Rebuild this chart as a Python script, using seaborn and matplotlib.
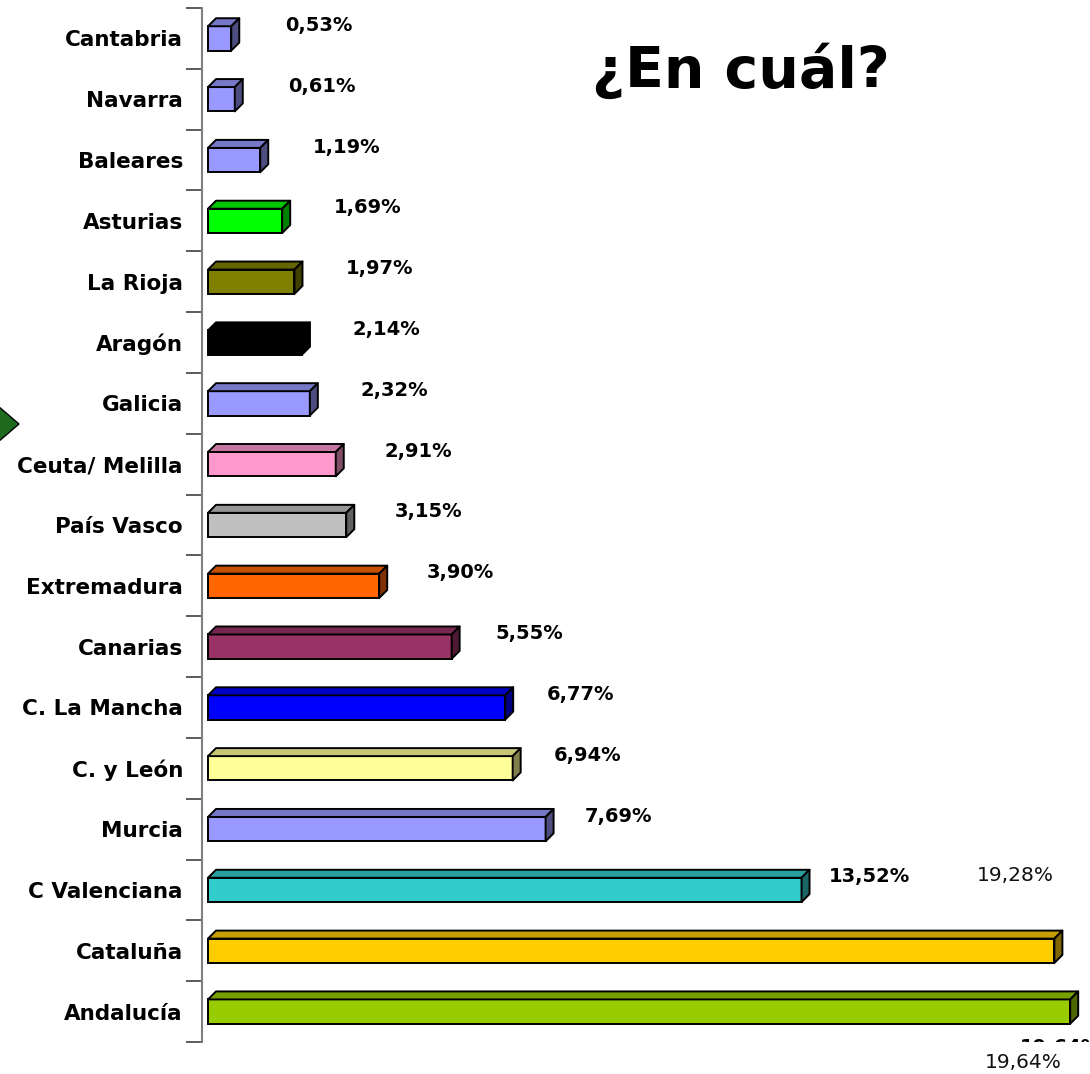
import numpy as np
import pandas as pd
import matplotlib
matplotlib.use("Agg")
import matplotlib.pyplot as plt
import seaborn as sns
from matplotlib.patches import Polygon, Rectangle
from matplotlib.colors import to_rgb

regions = ["Cantabria", "Navarra", "Baleares", "Asturias", "La Rioja", "Aragón",
           "Galicia", "Ceuta/ Melilla", "País Vasco", "Extremadura", "Canarias",
           "C. La Mancha", "C. y León", "Murcia", "C Valenciana", "Cataluña", "Andalucía"]
values = [0.53, 0.61, 1.19, 1.69, 1.97, 2.14, 2.32, 2.91, 3.15, 3.90, 5.55,
          6.77, 6.94, 7.69, 13.52, 19.28, 19.64]
value_labels = ["0,53%", "0,61%", "1,19%", "1,69%", "1,97%", "2,14%", "2,32%",
                "2,91%", "3,15%", "3,90%", "5,55%", "6,77%", "6,94%", "7,69%",
                "13,52%", None, None]
bar_colors = ["#9999FF", "#9999FF", "#9999FF", "#00FF00", "#808000", "#000000",
              "#9999FF", "#FF99CC", "#C0C0C0", "#FF6600", "#993366", "#0000FF",
              "#FFFF99", "#9999FF", "#33CCCC", "#FFCC00", "#99CC00"]
title_text = "¿En cuál?"
extra_label_cat = "19,28%"
extra_label_and = "19,64%"

sns.set_style("white")
plt.rcParams["font.family"] = ["DejaVu Sans"]

W, H = 1090, 1074
fig = plt.figure(figsize=(W / 100, H / 100), dpi=100)
ax_left, ax_top, ax_bottom = 202, 8, 1042
ax = fig.add_axes([ax_left / W, 1 - ax_bottom / H, (W - ax_left) / W, (ax_bottom - ax_top) / H])

df = pd.DataFrame({"region": regions, "value": values})
pal = dict(zip(regions, bar_colors))
bar_h = 0.4
sns.barplot(data=df, x="value", y="region", hue="region", palette=pal, legend=False,
            orient="h", width=bar_h, edgecolor="black", linewidth=1.4, saturation=1,
            ax=ax, zorder=3)

px_per_x = 43.9
x0 = -6 / px_per_x
ax.set_xlim(x0, x0 + (W - ax_left) / px_per_x)
ax.set_ylim(len(regions) - 0.5, -0.5)
px_per_y = (ax_bottom - ax_top) / len(regions)

dx = 8 / px_per_x
dy = 8 / px_per_y


def shade(c, f):
    r, g, b = to_rgb(c)
    return (r * f, g * f, b * f)


for i, (v, c) in enumerate(zip(values, bar_colors)):
    top = i - bar_h / 2
    bot = i + bar_h / 2
    top_face = Polygon([(0, top), (v, top), (v + dx, top - dy), (dx, top - dy)],
                       closed=True, facecolor=shade(c, 0.78), edgecolor="black",
                       linewidth=1.4, zorder=4, joinstyle="round")
    side_face = Polygon([(v, top), (v + dx, top - dy), (v + dx, bot - dy), (v, bot)],
                        closed=True, facecolor=shade(c, 0.5), edgecolor="black",
                        linewidth=1.4, zorder=4, joinstyle="round")
    ax.add_patch(top_face)
    ax.add_patch(side_face)

# value labels
for i, (v, lab) in enumerate(zip(values, value_labels)):
    if lab is None:
        continue
    ax.text(0.954 * v + 1.25, i - 13 / px_per_y, lab, ha="left", va="center",
            fontsize=14, fontweight="bold", color="black", zorder=5)

# stray labels
ax.text((1015 - 208) / px_per_x, (875 - ax_top) / px_per_y - 0.5, extra_label_cat,
        ha="center", va="center", fontsize=14.5, color="#111111", clip_on=False)
ax.text((1020 - 208) / px_per_x, (1047 - ax_top) / px_per_y - 0.5, extra_label_and,
        ha="left", va="center", fontsize=14, fontweight="bold", color="black",
        clip_on=False, zorder=6)
fig.patches.append(Rectangle((1005 / W, 1 - 1075 / H), 90 / W, (1075 - 1042) / H,
                             transform=fig.transFigure, facecolor="white",
                             edgecolor="none", zorder=7))
fig.text(1023 / W, 1 - 1063 / H, extra_label_and, ha="center", va="center",
         fontsize=14.5, color="#111111", zorder=8)

# axes styling
for s in ["top", "right", "bottom"]:
    ax.spines[s].set_visible(False)
ax.spines["left"].set_color("#808080")
ax.spines["left"].set_linewidth(1.5)
ax.set_xlabel("")
ax.set_ylabel("")
ax.set_xticks([])
ax.set_yticks(range(len(regions)))
ax.set_yticklabels(regions, fontsize=15.5, fontweight="bold", color="black")
ax.set_yticks(np.arange(-0.5, len(regions), 1.0), minor=True)
ax.tick_params(axis="y", which="major", left=True, length=0, pad=13.7,
               labelcolor="black")
ax.tick_params(axis="y", which="minor", left=True, length=11.5, width=1.2,
               color="#404040", direction="out")
ax.patch.set_alpha(0)

# title
fig.text(741 / W, 1 - 88 / H, title_text, ha="center", va="baseline",
         fontsize=41, fontweight="bold", color="black")

# green arrow marker
arrow = Polygon([(-2 / W, 1 - 406 / H), (19 / W, 1 - 424 / H), (-2 / W, 1 - 442 / H)],
                closed=True, transform=fig.transFigure, facecolor="#1E6B1E",
                edgecolor="black", linewidth=1.0, zorder=10)
fig.patches.append(arrow)

fig.savefig("out.png", dpi=100)
